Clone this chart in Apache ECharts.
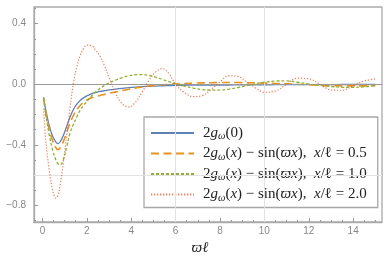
<!DOCTYPE html>
<html><head><meta charset="utf-8">
<script src="https://cdn.jsdelivr.net/npm/echarts@6/dist/echarts.min.js"></script>
<style>html,body{margin:0;padding:0;background:#fff}#c{width:391px;height:264px}</style>
</head><body><div id="c"></div>
<script>
// ---- data ----
const xs = [0.05,0.15,0.3,0.45,0.6,0.7,0.8,0.95,1.1,1.25,1.4,1.55,1.7,1.85,2.0,2.2,2.4,2.6,2.8,3.0,3.3,3.6,3.9,4.2,4.5,4.8,5.1,5.4,5.7,6.0,6.4,6.8,7.2,7.6,8.0,8.4,8.8,9.2,9.6,10.0,10.5,11.0,11.5,12.0,12.5,13.0,13.5,14.0,14.5,15.0];
const g0 = [-0.085,-0.17,-0.27,-0.34,-0.38,-0.392,-0.38,-0.335,-0.275,-0.215,-0.165,-0.132,-0.108,-0.09,-0.077,-0.064,-0.055,-0.048,-0.043,-0.038,-0.032,-0.027,-0.023,-0.019,-0.016,-0.014,-0.012,-0.010,-0.009,-0.008,-0.007,-0.006,-0.006,-0.005,-0.005,-0.005,-0.004,-0.004,-0.004,-0.004,-0.003,-0.003,-0.003,-0.003,-0.003,-0.003,-0.002,-0.002,-0.002,-0.002];
const half = [-0.09,-0.185,-0.295,-0.37,-0.418,-0.432,-0.42,-0.375,-0.315,-0.255,-0.205,-0.168,-0.14,-0.12,-0.104,-0.091,-0.082,-0.074,-0.067,-0.06,-0.051,-0.042,-0.033,-0.025,-0.018,-0.012,-0.008,-0.004,-0.001,0.002,0.005,0.007,0.009,0.010,0.011,0.011,0.011,0.010,0.009,0.007,0.005,0.003,0.0,-0.003,-0.007,-0.010,-0.011,-0.011,-0.011,-0.010];
const one = [-0.095,-0.2,-0.33,-0.43,-0.498,-0.525,-0.532,-0.495,-0.41,-0.32,-0.265,-0.215,-0.172,-0.14,-0.115,-0.08,-0.05,-0.027,-0.008,0.008,0.028,0.044,0.056,0.063,0.064,0.058,0.047,0.032,0.017,0.003,-0.013,-0.026,-0.035,-0.039,-0.038,-0.032,-0.022,-0.01,0.003,0.013,0.021,0.022,0.013,0.002,-0.008,-0.015,-0.02,-0.021,-0.017,-0.01];
const two = [-0.16,-0.37,-0.56,-0.69,-0.752,-0.735,-0.665,-0.51,-0.33,-0.15,0.01,0.115,0.188,0.235,0.258,0.255,0.225,0.185,0.12,0.045,-0.06,-0.13,-0.15,-0.117,-0.05,0.025,0.08,0.103,0.07,0.0,-0.055,-0.082,-0.075,-0.035,0.015,0.055,0.052,0.015,-0.025,-0.053,-0.045,0.0,0.04,0.036,0.0,-0.038,-0.04,-0.01,0.022,0.035];
const seriesNames = ['2gω(0)','2gω(x) − sin(ϖx),  x/ℓ = 0.5','2gω(x) − sin(ϖx),  x/ℓ = 1.0','2gω(x) − sin(ϖx),  x/ℓ = 2.0'];
const legendRich = [
  '{r|2}{i|g}{s|ω}{r|(0)}',
  '{r|2}{i|g}{s|ω}{r|(}{i|x}{r|) − sin(}{i|ϖx}{r|),  }{i|x}{r|/ℓ = 0.5}',
  '{r|2}{i|g}{s|ω}{r|(}{i|x}{r|) − sin(}{i|ϖx}{r|),  }{i|x}{r|/ℓ = 1.0}',
  '{r|2}{i|g}{s|ω}{r|(}{i|x}{r|) − sin(}{i|ϖx}{r|),  }{i|x}{r|/ℓ = 2.0}'
];
const xMajorTicks = [0,2,4,6,8,10,12,14];
const xMinorTicks = [0.5,1,1.5,2.5,3,3.5,4.5,5,5.5,6.5,7,7.5,8.5,9,9.5,10.5,11,11.5,12.5,13,13.5,14.5,15];
const yMajorTicks = [-0.8,-0.4,0,0.4];
const yMinorTicks = [-0.9,-0.7,-0.6,-0.5,-0.3,-0.2,-0.1,0.1,0.2,0.3,0.5];
const xGridLines = [6,10];
const yGridLines = [-0.6];
const axisTitle = 'ϖℓ';

// ---- chart ----
const XMIN = -0.38, XMAX = 15.3, YMIN = -0.91, YMAX = 0.51;
const pts = ys => xs.map((x,i)=>[x, ys[i]]);
const serif = 'Liberation Serif';
const chart = echarts.init(document.getElementById('c'), null, {renderer:'canvas'});
const richMap = {}; seriesNames.forEach((n,i)=>richMap[n]=legendRich[i]);
const gridLineStyle = {color:'#e2e2e2', width:1, type:'solid'};
const markData = [{yAxis:0, lineStyle:{color:'#999', width:1, type:'solid'}}]
  .concat(xGridLines.map(v=>({xAxis:v, lineStyle:gridLineStyle})))
  .concat(yGridLines.map(v=>({yAxis:v, lineStyle:gridLineStyle})));
const base = {type:'line', symbol:'none', smooth:0.4, animation:false, xAxisIndex:0, yAxisIndex:0};
chart.setOption({
  animation:false,
  grid:{left:34, right:9, top:7, bottom:42, show:true, borderColor:'#aaa', borderWidth:1.3, backgroundColor:'transparent'},
  xAxis:[
    {type:'value', min:XMIN, max:XMAX, position:'bottom',
     axisLine:{show:true, onZero:false, lineStyle:{color:'#aaa', width:1.3}},
     axisTick:{show:true, inside:true, length:4, customValues:xMajorTicks, lineStyle:{color:'#999'}},
     axisLabel:{customValues:xMajorTicks, color:'#888', fontSize:10, margin:4, fontFamily:'Liberation Sans'},
     splitLine:{show:false},
     name:axisTitle, nameLocation:'middle', nameGap:16,
     nameTextStyle:{fontFamily:serif, fontStyle:'italic', fontSize:15, color:'#222', padding:[0,16,0,0]}},
    {type:'value', min:XMIN, max:XMAX, position:'bottom',
     axisLine:{show:false, onZero:false},
     axisTick:{show:true, inside:true, length:2, customValues:xMinorTicks, lineStyle:{color:'#999'}},
     axisLabel:{show:false}, splitLine:{show:false}}
  ],
  yAxis:[
    {type:'value', min:YMIN, max:YMAX, position:'left',
     axisLine:{show:true, onZero:false, lineStyle:{color:'#aaa', width:1.3}},
     axisTick:{show:true, inside:true, length:4, customValues:yMajorTicks, lineStyle:{color:'#999'}},
     axisLabel:{customValues:yMajorTicks, color:'#888', fontSize:10, margin:8, fontFamily:'Liberation Sans',
       formatter:v=>(v<0?'−':'')+Math.abs(v).toFixed(1)},
     splitLine:{show:false}},
    {type:'value', min:YMIN, max:YMAX, position:'left',
     axisLine:{show:false, onZero:false},
     axisTick:{show:true, inside:true, length:2, customValues:yMinorTicks, lineStyle:{color:'#999'}},
     axisLabel:{show:false}, splitLine:{show:false}}
  ],
  legend:{
    orient:'vertical', left:144, top:117, padding:[6,11,3,6],
    itemWidth:43, itemHeight:10, itemGap:0.5,
    backgroundColor:'#fff', borderColor:'#a8a8a8', borderWidth:1.3,
    itemStyle:{opacity:0},
    data:seriesNames,
    formatter:n=>richMap[n],
    textStyle:{fontFamily:serif, fontSize:15, color:'#222', lineHeight:20, padding:[0,0,0,4],
      rich:{
        r:{fontFamily:serif, fontSize:15, color:'#222'},
        i:{fontFamily:serif, fontSize:15, color:'#222', fontStyle:'italic'},
        s:{fontFamily:serif, fontSize:10.5, color:'#222', fontStyle:'italic', padding:[7,0,0,0]}
      }}
  },
  series:[
    Object.assign({}, base, {name:seriesNames[0], data:pts(g0), z:3,
      lineStyle:{color:'#5e81b5', width:1.3, type:'solid'}, itemStyle:{color:'#5e81b5'},
      markLine:{silent:true, symbol:'none', animation:false, label:{show:false}, data:markData}}),
    Object.assign({}, base, {name:seriesNames[1], data:pts(half), z:4,
      lineStyle:{color:'#e8921f', width:1.6, type:[8,4.5]}, itemStyle:{color:'#e8921f'}}),
    Object.assign({}, base, {name:seriesNames[2], data:pts(one), z:5,
      lineStyle:{color:'#8fb032', width:1.3, type:[3,2]}, itemStyle:{color:'#8fb032'}}),
    Object.assign({}, base, {name:seriesNames[3], data:pts(two), z:6,
      lineStyle:{color:'#eb6235', width:1.2, type:[1.3,1.7], opacity:0.8}, itemStyle:{color:'#eb6235'}})
  ]
});
</script></body></html>
